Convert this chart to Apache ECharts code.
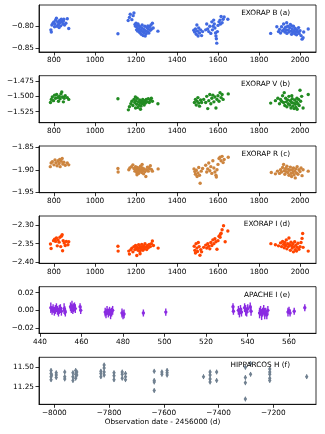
<!DOCTYPE html>
<html>
<head>
<meta charset="utf-8">
<script src="https://cdn.jsdelivr.net/npm/echarts@6/dist/echarts.min.js"></script>
<style>
html, body { margin: 0; padding: 0; background: #fff; }
#main { width: 325px; height: 434px; }
</style>
</head>
<body>
<div id="main"></div>
<script>
// EXORAP B: [date, mag]
var exorapB = [
    [785,-0.808],[787,-0.813],[790,-0.797],[795,-0.793],[800,-0.790],[803,-0.801],[805,-0.795],[808,-0.786],[812,-0.782],[815,-0.800],[818,-0.790],[822,-0.796],[825,-0.803],[826,-0.788],[828,-0.792],[830,-0.786],[833,-0.799],[836,-0.784],[840,-0.790],[843,-0.795],[846,-0.788],[848,-0.784],[852,-0.797],[858,-0.793],[865,-0.783],[872,-0.805],
    [1112,-0.817],[1162,-0.787],[1168,-0.780],[1172,-0.773],[1180,-0.785],[1186,-0.776],[1190,-0.770],[1195,-0.796],[1198,-0.800],[1200,-0.793],[1203,-0.808],[1206,-0.803],[1209,-0.811],[1210,-0.795],[1212,-0.798],[1215,-0.806],[1218,-0.814],[1220,-0.801],[1223,-0.809],[1226,-0.818],[1229,-0.804],[1230,-0.797],[1232,-0.812],[1235,-0.821],[1238,-0.807],[1240,-0.815],[1243,-0.800],[1245,-0.822],[1246,-0.810],[1250,-0.817],[1253,-0.803],[1256,-0.812],[1258,-0.799],[1260,-0.806],[1263,-0.815],[1266,-0.801],[1270,-0.809],[1273,-0.797],[1276,-0.806],[1280,-0.793],[1284,-0.804],[1307,-0.811],
    [1482,-0.809],[1486,-0.813],[1490,-0.806],[1494,-0.818],[1497,-0.797],[1500,-0.811],[1503,-0.822],[1506,-0.804],[1510,-0.815],[1515,-0.808],[1520,-0.821],[1525,-0.812],[1540,-0.808],[1545,-0.795],[1550,-0.806],[1555,-0.812],[1560,-0.800],[1565,-0.816],[1570,-0.790],[1573,-0.808],[1576,-0.800],[1579,-0.786],[1582,-0.795],[1585,-0.804],[1588,-0.815],[1590,-0.822],[1592,-0.828],[1594,-0.838],[1597,-0.812],[1600,-0.798],[1605,-0.790],[1610,-0.786],[1612,-0.795],[1615,-0.778],[1620,-0.792],[1625,-0.784],[1630,-0.779],[1648,-0.784],
    [1857,-0.816],[1887,-0.801],[1895,-0.812],[1900,-0.807],[1905,-0.815],[1910,-0.801],[1915,-0.810],[1920,-0.795],[1923,-0.806],[1926,-0.813],[1930,-0.802],[1933,-0.809],[1935,-0.792],[1936,-0.816],[1940,-0.800],[1943,-0.808],[1946,-0.813],[1950,-0.803],[1953,-0.796],[1956,-0.811],[1959,-0.818],[1960,-0.799],[1962,-0.806],[1965,-0.813],[1968,-0.800],[1971,-0.810],[1974,-0.817],[1977,-0.805],[1980,-0.812],[1983,-0.819],[1986,-0.808],[1990,-0.813],[1993,-0.803],[1996,-0.816],[2000,-0.810],[2005,-0.821],[2010,-0.829],[2015,-0.826],[2018,-0.813],[2040,-0.806]
];
// EXORAP V
var exorapV = [
    [783,-1.510],[787,-1.505],[792,-1.501],[798,-1.507],[803,-1.498],[808,-1.503],[813,-1.497],[818,-1.502],[822,-1.508],[826,-1.500],[830,-1.504],[834,-1.496],[838,-1.493],[842,-1.501],[846,-1.509],[850,-1.503],[855,-1.499],[865,-1.502],[872,-1.505],
    [1112,-1.504],[1163,-1.522],[1168,-1.517],[1175,-1.512],[1180,-1.508],[1185,-1.515],[1190,-1.505],[1194,-1.510],[1197,-1.501],[1198,-1.519],[1200,-1.507],[1203,-1.513],[1206,-1.503],[1209,-1.518],[1212,-1.509],[1215,-1.514],[1218,-1.506],[1221,-1.511],[1222,-1.521],[1224,-1.516],[1227,-1.508],[1230,-1.512],[1233,-1.505],[1236,-1.510],[1240,-1.514],[1243,-1.507],[1246,-1.511],[1250,-1.505],[1255,-1.509],[1260,-1.504],[1265,-1.510],[1270,-1.506],[1275,-1.503],[1280,-1.508],[1307,-1.512],
    [1485,-1.510],[1490,-1.505],[1494,-1.514],[1498,-1.508],[1502,-1.502],[1506,-1.511],[1510,-1.516],[1515,-1.506],[1520,-1.510],[1530,-1.505],[1540,-1.510],[1545,-1.500],[1550,-1.520],[1555,-1.507],[1560,-1.497],[1565,-1.512],[1570,-1.503],[1575,-1.498],[1580,-1.509],[1585,-1.501],[1590,-1.519],[1595,-1.505],[1600,-1.499],[1605,-1.508],[1610,-1.494],[1615,-1.502],[1620,-1.497],[1625,-1.505],[1650,-1.496],
    [1857,-1.511],[1880,-1.507],[1892,-1.503],[1900,-1.512],[1905,-1.505],[1910,-1.508],[1915,-1.499],[1920,-1.510],[1923,-1.494],[1926,-1.515],[1930,-1.503],[1933,-1.509],[1936,-1.517],[1940,-1.506],[1943,-1.512],[1946,-1.500],[1950,-1.514],[1953,-1.507],[1956,-1.519],[1959,-1.510],[1960,-1.499],[1962,-1.504],[1965,-1.516],[1968,-1.511],[1971,-1.520],[1974,-1.506],[1977,-1.513],[1980,-1.518],[1983,-1.509],[1985,-1.503],[1986,-1.521],[1990,-1.512],[1993,-1.505],[1996,-1.515],[2000,-1.490],[2003,-1.508],[2008,-1.500],[2015,-1.519],[2040,-1.497]
];
// EXORAP R
var exorapR = [
    [782,-1.893],[786,-1.885],[792,-1.882],[800,-1.889],[805,-1.878],[810,-1.884],[815,-1.891],[820,-1.880],[825,-1.886],[828,-1.877],[830,-1.893],[835,-1.881],[840,-1.875],[843,-1.887],[848,-1.883],[855,-1.890],[865,-1.885],[872,-1.889],
    [1112,-1.897],[1113,-1.905],[1165,-1.900],[1170,-1.896],[1178,-1.893],[1185,-1.889],[1190,-1.897],[1195,-1.903],[1198,-1.893],[1201,-1.899],[1204,-1.906],[1205,-1.911],[1207,-1.895],[1210,-1.901],[1213,-1.908],[1216,-1.897],[1219,-1.903],[1222,-1.892],[1225,-1.900],[1228,-1.906],[1230,-1.888],[1231,-1.896],[1234,-1.902],[1237,-1.909],[1240,-1.898],[1244,-1.904],[1248,-1.915],[1252,-1.900],[1256,-1.894],[1260,-1.903],[1265,-1.897],[1270,-1.891],[1275,-1.899],[1280,-1.903],[1308,-1.898],
    [1483,-1.898],[1487,-1.904],[1490,-1.910],[1494,-1.901],[1498,-1.915],[1502,-1.907],[1506,-1.895],[1510,-1.912],[1513,-1.930],[1518,-1.903],[1525,-1.897],[1540,-1.890],[1545,-1.905],[1550,-1.898],[1555,-1.885],[1560,-1.902],[1565,-1.893],[1570,-1.908],[1575,-1.880],[1580,-1.896],[1585,-1.905],[1590,-1.912],[1592,-1.916],[1595,-1.900],[1600,-1.888],[1605,-1.875],[1610,-1.872],[1615,-1.880],[1620,-1.870],[1625,-1.884],[1630,-1.877],[1650,-1.872],
    [1860,-1.906],[1880,-1.909],[1890,-1.903],[1900,-1.908],[1905,-1.900],[1910,-1.905],[1915,-1.895],[1920,-1.888],[1923,-1.902],[1926,-1.910],[1930,-1.897],[1933,-1.904],[1936,-1.892],[1940,-1.906],[1943,-1.899],[1946,-1.912],[1950,-1.901],[1953,-1.894],[1956,-1.908],[1959,-1.915],[1962,-1.900],[1965,-1.906],[1968,-1.896],[1971,-1.911],[1974,-1.903],[1977,-1.918],[1980,-1.898],[1983,-1.907],[1986,-1.893],[1990,-1.910],[1995,-1.900],[2000,-1.904],[2005,-1.896],[2010,-1.913],[2015,-1.900],[2040,-1.903]
];
// EXORAP I
var exorapI = [
    [783,-2.351],[786,-2.363],[798,-2.342],[803,-2.338],[808,-2.344],[812,-2.335],[816,-2.356],[820,-2.340],[825,-2.346],[829,-2.333],[833,-2.358],[836,-2.330],[840,-2.326],[842,-2.369],[845,-2.342],[850,-2.348],[855,-2.355],[860,-2.344],[868,-2.353],[872,-2.345],
    [1112,-2.357],[1113,-2.370],[1165,-2.370],[1168,-2.378],[1175,-2.366],[1180,-2.362],[1185,-2.372],[1190,-2.358],[1195,-2.366],[1198,-2.355],[1201,-2.363],[1204,-2.382],[1207,-2.360],[1210,-2.368],[1213,-2.353],[1216,-2.362],[1219,-2.371],[1220,-2.377],[1222,-2.358],[1225,-2.365],[1228,-2.352],[1231,-2.360],[1234,-2.368],[1237,-2.356],[1240,-2.363],[1244,-2.350],[1248,-2.359],[1252,-2.366],[1256,-2.355],[1260,-2.361],[1265,-2.352],[1270,-2.358],[1275,-2.350],[1280,-2.343],[1285,-2.355],[1308,-2.362],
    [1484,-2.357],[1487,-2.368],[1490,-2.375],[1493,-2.350],[1497,-2.362],[1500,-2.371],[1504,-2.347],[1508,-2.358],[1512,-2.381],[1516,-2.366],[1520,-2.372],[1530,-2.360],[1540,-2.354],[1545,-2.362],[1550,-2.350],[1555,-2.357],[1560,-2.364],[1565,-2.347],[1570,-2.355],[1575,-2.340],[1580,-2.350],[1585,-2.337],[1590,-2.345],[1595,-2.365],[1600,-2.342],[1605,-2.330],[1610,-2.333],[1612,-2.325],[1615,-2.322],[1620,-2.313],[1627,-2.302],[1635,-2.345],[1648,-2.316],
    [1858,-2.350],[1880,-2.353],[1895,-2.356],[1905,-2.348],[1910,-2.358],[1915,-2.344],[1920,-2.352],[1923,-2.361],[1926,-2.347],[1930,-2.355],[1933,-2.340],[1936,-2.364],[1940,-2.350],[1943,-2.358],[1946,-2.335],[1950,-2.353],[1953,-2.368],[1956,-2.346],[1959,-2.356],[1962,-2.362],[1965,-2.350],[1968,-2.372],[1971,-2.358],[1974,-2.345],[1977,-2.366],[1980,-2.354],[1983,-2.370],[1986,-2.360],[1990,-2.349],[1995,-2.365],[2000,-2.358],[2005,-2.347],[2010,-2.336],[2013,-2.323],[2015,-2.360],[2040,-2.370]
];
// APACHE I: [date, mag, err]
var apacheI = [
    [445.2,0.003,0.006],[445.8,0.000,0.005],[446.3,0.002,0.005],[446.9,-0.001,0.005],[447.4,0.001,0.005],[447.9,0.003,0.005],[448.4,0.000,0.005],[448.9,-0.002,0.005],[449.3,0.001,0.005],[449.8,0.002,0.005],[450.3,-0.001,0.005],[451.6,0.002,0.006],[451.9,0.000,0.005],[452.2,-0.002,0.005],
    [454.7,0.004,0.005],[455.1,0.002,0.005],[455.4,0.005,0.006],[455.8,0.001,0.005],[456.2,0.003,0.005],[456.6,0.004,0.005],[457.0,0.002,0.005],[459.3,0.004,0.004],[459.6,0.000,0.004],
    [471.4,-0.002,0.005],[471.8,-0.004,0.005],[472.3,0.000,0.005],[472.9,-0.003,0.005],[473.5,-0.001,0.005],[474.0,-0.004,0.006],[474.5,-0.002,0.005],[475.0,0.000,0.005],
    [479.5,-0.003,0.005],[480.0,-0.005,0.005],[480.5,-0.004,0.005],[489.8,-0.003,0.004],[500.6,-0.002,0.004],
    [533.0,0.004,0.004],[533.2,-0.001,0.004],[535.6,0.000,0.005],[536.1,-0.003,0.005],[536.6,0.001,0.005],[537.1,-0.002,0.005],[538.6,0.003,0.005],[539.1,0.000,0.006],[539.6,-0.002,0.005],[540.1,0.002,0.005],[541.3,0.004,0.005],[541.7,-0.001,0.005],
    [545.8,-0.003,0.006],[546.3,0.000,0.005],[546.8,-0.005,0.006],[547.3,-0.002,0.005],[547.8,0.001,0.005],[548.3,-0.004,0.006],[548.8,-0.002,0.005],[549.3,-0.005,0.005],[549.8,0.000,0.005],
    [559.5,-0.002,0.005],[560.0,0.000,0.004],[560.5,-0.003,0.004],[562.5,-0.001,0.004],[567.6,0.003,0.004]
];
// HIPPARCOS H: [date, mag, err]
var hipparcosH = [
    [-8012,11.46,0.03],[-8012,11.42,0.03],[-8012,11.38,0.03],[-8012,11.34,0.03],[-8010,11.40,0.03],
    [-7993,11.40,0.03],[-7993,11.37,0.03],[-7993,11.43,0.03],
    [-7962,11.44,0.03],[-7962,11.38,0.03],[-7962,11.35,0.03],
    [-7932,11.43,0.03],[-7932,11.38,0.03],[-7932,11.33,0.03],[-7922,11.46,0.03],[-7922,11.41,0.03],[-7922,11.36,0.03],[-7918,11.44,0.03],[-7918,11.40,0.03],
    [-7830,11.42,0.03],[-7830,11.38,0.03],[-7830,11.45,0.03],[-7818,11.49,0.03],[-7818,11.44,0.03],[-7818,11.40,0.03],[-7818,11.53,0.03],
    [-7782,11.43,0.03],[-7782,11.39,0.03],[-7782,11.34,0.03],
    [-7752,11.41,0.03],[-7752,11.36,0.03],[-7752,11.44,0.03],[-7740,11.38,0.03],[-7740,11.34,0.03],[-7740,11.42,0.03],
    [-7635,11.45,0.03],[-7635,11.33,0.03],[-7635,11.20,0.03],[-7635,11.31,0.03],
    [-7607,11.41,0.03],[-7607,11.44,0.03],[-7588,11.43,0.03],[-7588,11.40,0.03],[-7588,11.46,0.03],
    [-7455,11.38,0.03],[-7431,11.44,0.03],[-7431,11.40,0.03],[-7431,11.35,0.03],[-7431,11.31,0.03],[-7407,11.44,0.03],[-7407,11.33,0.03],
    [-7302,11.50,0.03],[-7302,11.37,0.03],[-7302,11.30,0.03],[-7302,11.09,0.03],[-7283,11.55,0.03],[-7283,11.41,0.03],
    [-7213,11.48,0.03],[-7213,11.41,0.03],[-7213,11.36,0.03],[-7213,11.33,0.03],[-7213,11.44,0.03],
    [-7078,11.38,0.03]
];

var panelNames = ['EXORAP B (a)', 'EXORAP V (b)', 'EXORAP R (c)', 'EXORAP I (d)', 'APACHE I (e)', 'HIPPARCOS H (f)'];
var xLabel = 'Observation date - 2456000 (d)';

var panels = [
    { data: exorapB, color: '#4169e1', x: [727, 2078], xi: 200, y: [-0.858, -0.752], yi: 0.05, yd: 2, top: 5, h: 47 },
    { data: exorapV, color: '#228b22', x: [727, 2078], xi: 200, y: [-1.543, -1.4663], yi: 0.025, yd: 3, top: 75.7, h: 47 },
    { data: exorapR, color: '#cd853f', x: [727, 2078], xi: 200, y: [-1.951, -1.847], yi: 0.05, yd: 2, top: 146, h: 46.7 },
    { data: exorapI, color: '#ff4500', x: [727, 2078], xi: 200, y: [-2.4027, -2.276], yi: 0.05, yd: 2, top: 216, h: 47.3 },
    { data: apacheI, color: '#8a2be2', x: [439.5, 573], xi: 20, y: [-0.026, 0.0268], yi: 0.02, yd: 2, top: 286.7, h: 46.6, err: true },
    { data: hipparcosH, color: '#708090', x: [-8056, -7044], xi: 200, y: [11.022, 11.63], yi: 0.25, yd: 2, top: 357.3, h: 47, err: true }
];

var FONT = 'DejaVu Sans';
function fmt(d) {
    return function (v) {
        return (v < 0 ? '\u2212' : '') + Math.abs(v).toFixed(d);
    };
}

var chart = echarts.init(document.getElementById('main'), null, { renderer: 'canvas' });

var grids = [], xAxes = [], yAxes = [], series = [], titles = [];
panels.forEach(function (p, i) {
    grids.push({ left: 39, right: 9, top: p.top, height: p.h, show: true, borderColor: '#000', borderWidth: 0.8, backgroundColor: 'transparent' });
    var axisCommon = {
        gridIndex: i, type: 'value', scale: true,
        axisLine: { show: true, onZero: false, lineStyle: { color: '#000', width: 0.8 } },
        axisTick: { show: true, length: 3.5, lineStyle: { color: '#000', width: 0.8 } },
        splitLine: { show: false }
    };
    xAxes.push(Object.assign({}, axisCommon, {
        min: p.x[0], max: p.x[1], minInterval: p.xi, maxInterval: p.xi, splitNumber: 6,
        axisLabel: { fontSize: 7.3, fontFamily: FONT, color: '#000', margin: 5, showMinLabel: false, showMaxLabel: false, formatter: fmt(0) }
    }));
    yAxes.push(Object.assign({}, axisCommon, {
        min: p.y[0], max: p.y[1], minInterval: p.yi, maxInterval: p.yi, splitNumber: 3,
        axisLabel: { fontSize: 7.3, fontFamily: FONT, color: '#000', margin: 5, showMinLabel: false, showMaxLabel: false, formatter: fmt(p.yd) }
    }));
    if (p.err) {
        series.push({
            type: 'custom', xAxisIndex: i, yAxisIndex: i, data: p.data, encode: { x: 0, y: 1 }, silent: true,
            renderItem: function (params, api) {
                var x = api.value(0), y = api.value(1), e = api.value(2);
                var a = api.coord([x, y - e]), b = api.coord([x, y + e]);
                return { type: 'line', shape: { x1: a[0], y1: a[1], x2: b[0], y2: b[1] }, style: { stroke: p.color, lineWidth: i === 4 ? 1.4 : 1 } };
            }
        });
    }
    series.push({
        type: 'scatter', xAxisIndex: i, yAxisIndex: i, silent: true,
        data: p.data.map(function (d) { return [d[0], d[1]]; }),
        symbol: i === 5 ? 'diamond' : 'circle',
        symbolSize: i === 5 ? [3.5, 5] : 3.4,
        itemStyle: { color: p.color, opacity: 1 }
    });
    titles.push({
        text: panelNames[i], right: 35, top: p.top + 4.5, padding: 0,
        textStyle: { fontSize: 7.3, fontFamily: FONT, fontWeight: 'normal', color: '#000' }
    });
});

var option = {
    animation: false,
    backgroundColor: '#fff',
    title: titles,
    grid: grids,
    xAxis: xAxes,
    yAxis: yAxes,
    series: series,
    graphic: [{
        type: 'text', left: 'center', top: 419,
        style: { text: xLabel, font: '7.3px "DejaVu Sans"', fill: '#000' },
        x: 14
    }]
};
chart.setOption(option);
</script>
</body>
</html>
